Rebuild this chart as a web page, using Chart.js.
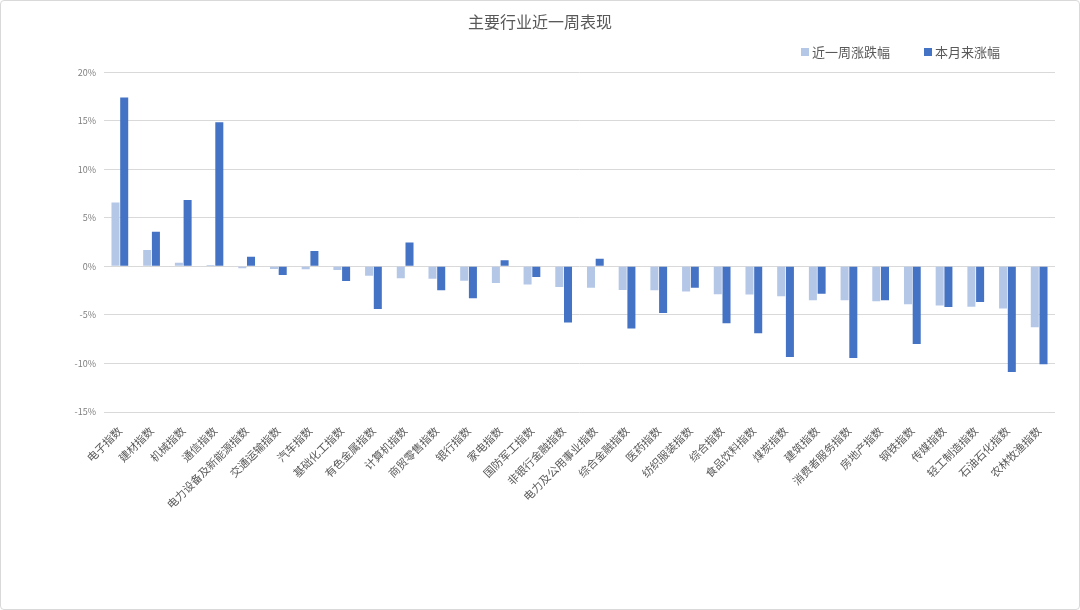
<!DOCTYPE html>
<html lang="zh">
<head>
<meta charset="utf-8">
<title>主要行业近一周表现</title>
<script src="https://cdn.jsdelivr.net/npm/chart.js@4.4.1/dist/chart.umd.min.js"></script>
<style>
    html, body { margin: 0; padding: 0; background: #ffffff; }
    .frame {
        width: 1080px;
        height: 610px;
        box-sizing: border-box;
        border: 1px solid #d9d9d9;
        border-radius: 4px;
        position: relative;
    }
</style>
</head>
<body>
<div class="frame">
    <canvas id="industry-chart"></canvas>
</div>
<script>
    // ── data ──────────────────────────────────────────────
    var industries = [
        '电子指数', '建材指数', '机械指数', '通信指数', '电力设备及新能源指数',
        '交通运输指数', '汽车指数', '基础化工指数', '有色金属指数', '计算机指数',
        '商贸零售指数', '银行指数', '家电指数', '国防军工指数', '非银行金融指数',
        '电力及公用事业指数', '综合金融指数', '医药指数', '纺织服装指数', '综合指数',
        '食品饮料指数', '煤炭指数', '建筑指数', '消费者服务指数', '房地产指数',
        '钢铁指数', '传媒指数', '轻工制造指数', '石油石化指数', '农林牧渔指数'
    ];
    var weekChange = [
        6.58, 1.69, 0.38, 0.14, -0.20,
        -0.28, -0.30, -0.37, -0.96, -1.22,
        -1.27, -1.47, -1.71, -1.88, -2.12,
        -2.19, -2.43, -2.47, -2.60, -2.88,
        -2.91, -3.09, -3.50, -3.50, -3.60,
        -3.91, -4.04, -4.15, -4.35, -6.28
    ];
    var monthChange = [
        17.40, 3.57, 6.83, 14.85, 1.00,
        -0.89, 1.58, -1.50, -4.38, 2.45,
        -2.47, -3.29, 0.62, -1.10, -5.79,
        0.79, -6.41, -4.80, -2.19, -5.86,
        -6.89, -9.33, -2.81, -9.43, -3.50,
        -7.99, -4.18, -3.67, -10.87, -10.08
    ];
    var seriesNames = ['近一周涨跌幅', '本月来涨幅'];
    var yTicks = { min: -15, max: 20, step: 5 };

    var FONT = "'Noto Sans CJK SC', 'Noto Sans', sans-serif";
    var TEXT_GREY = '#595959';

    // Excel-style legend on the right, above the plot
    var topLegend = {
        id: 'topLegend',
        afterDraw: function (chart) {
            var ctx = chart.ctx;
            var x = 800;
            var y = 51;
            ctx.save();
            ctx.font = '13px ' + FONT;
            ctx.textBaseline = 'middle';
            ctx.textAlign = 'left';
            chart.data.datasets.forEach(function (ds) {
                ctx.fillStyle = ds.backgroundColor;
                ctx.fillRect(x, y - 4, 8, 8);
                ctx.fillStyle = TEXT_GREY;
                ctx.fillText(ds.label, x + 11, y);
                x += 11 + ctx.measureText(ds.label).width + 34;
            });
            ctx.restore();
        }
    };

    var ctx = document.getElementById('industry-chart').getContext('2d');
    new Chart(ctx, {
        type: 'bar',
        data: {
            labels: industries,
            datasets: [{
                label: seriesNames[0],
                data: weekChange,
                backgroundColor: '#b4c7e7',
                yAxisID: 'y'
            }, {
                label: seriesNames[1],
                data: monthChange,
                backgroundColor: '#4472c4',
                yAxisID: 'y'
            }]
        },
        options: {
            responsive: true,
            maintainAspectRatio: false,
            animation: false,
            layout: { padding: 0 },
            datasets: {
                bar: { categoryPercentage: 0.55, barPercentage: 0.92 }
            },
            plugins: {
                legend: { display: false },
                tooltip: { enabled: false },
                title: {
                    display: true,
                    text: '主要行业近一周表现',
                    color: TEXT_GREY,
                    font: { family: FONT, size: 16, weight: 'normal' },
                    padding: { top: 11, bottom: 41 }
                }
            },
            scales: {
                x: {
                    grid: { display: false, drawTicks: false },
                    border: { display: false },
                    ticks: {
                        autoSkip: false,
                        minRotation: 45,
                        maxRotation: 45,
                        padding: 12,
                        color: TEXT_GREY,
                        font: { family: FONT, size: 11 }
                    },
                    afterFit: function (scale) { scale.height = 197; }
                },
                y: {
                    min: yTicks.min,
                    max: yTicks.max,
                    grid: { color: '#d9d9d9', lineWidth: 1, drawTicks: false },
                    border: { display: false },
                    ticks: {
                        stepSize: yTicks.step,
                        padding: 8,
                        color: '#7f7f7f',
                        font: { family: FONT, size: 9 },
                        callback: function (v) { return v + '%'; }
                    },
                    afterFit: function (scale) { scale.width = 103; }
                },
                // empty right margin so the title stays centred on the frame
                yRight: {
                    type: 'linear',
                    position: 'right',
                    grid: { display: false, drawTicks: false },
                    border: { display: false },
                    ticks: { display: false },
                    afterFit: function (scale) { scale.width = 24; }
                }
            }
        },
        plugins: [topLegend]
    });
</script>
</body>
</html>
